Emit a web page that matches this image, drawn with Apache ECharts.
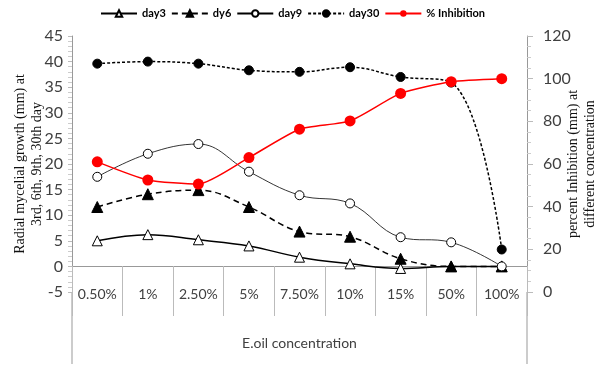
<!DOCTYPE html>
<html>
<head>
<meta charset="utf-8">
<script src="https://cdn.jsdelivr.net/npm/echarts@6/dist/echarts.min.js"></script>
<style>
  html, body { margin: 0; padding: 0; background: #fff; }
  #main { width: 600px; height: 366px; }
</style>
</head>
<body>
<div id="main"></div>
<script>
// 数据
var categories = ['0.50%', '1%', '2.50%', '5%', '7.50%', '10%', '15%', '50%', '100%'];
var day3 = [5, 6.2, 5.2, 4, 1.8, 0.5, -0.4, 0, 0];
var dy6 = [11.6, 14.1, 14.9, 11.6, 6.8, 5.8, 1.5, 0, 0];
var day9 = [17.5, 22, 23.9, 18.5, 13.9, 12.3, 5.7, 4.7, 0];
var day30 = [39.6, 40, 39.6, 38.3, 38, 38.9, 37, 35.9, 3.3];
var inhibition = [61, 52.5, 50.6, 63, 76.3, 80.2, 93.1, 98.6, 100];

var chart = echarts.init(document.getElementById('main'));
var axisGray = '#999';
var labelColor = '#404040';

function lineSeries(name, data, lineType, width, symbol, size, filled) {
    return {
        name: name,
        type: 'line',
        data: data,
        smooth: 0.4,
        symbol: symbol,
        symbolSize: size,
        lineStyle: { color: '#000', width: width, type: lineType },
        itemStyle: {
            color: filled ? '#000' : '#fff',
            borderColor: '#000',
            borderWidth: 1
        }
    };
}

var option = {
    animation: false,
    legend: {
        top: 3,
        left: 95,
        itemWidth: 36,
        itemHeight: 8,
        itemGap: 5,
        textStyle: { fontFamily: 'Lato', fontWeight: 'bold', fontSize: 11, color: '#000' },
        data: ['day3', 'dy6', 'day9', 'day30', '% Inhibition']
    },
    grid: [
        { left: 72, right: 73, top: 36, bottom: 74, containLabel: false, outerBoundsMode: 'none' },
        // 标签用的网格，底边在 y=0 处
        { left: 72, right: 73, top: 36, bottom: 100, containLabel: false, outerBoundsMode: 'none' }
    ],
    xAxis: [
        {
            type: 'category',
            data: categories,
            axisLine: { onZero: true, onZeroAxisIndex: 0, lineStyle: { color: axisGray } },
            axisTick: { show: false },
            axisLabel: { show: false }
        },
        {
            type: 'category',
            gridIndex: 1,
            data: categories,
            axisLine: { show: false },
            axisTick: { show: true, interval: 0, length: 50, lineStyle: { color: '#bbb', width: 1 } },
            axisLabel: { interval: 0, margin: 21, fontFamily: 'Lato', fontSize: 14, color: labelColor },
            name: 'E.oil concentration',
            nameLocation: 'middle',
            nameGap: 70,
            nameMoveOverlap: false,
            nameTextStyle: { fontFamily: 'Lato', fontSize: 14, color: labelColor }
        }
    ],
    yAxis: [
        {
            type: 'value',
            min: -5,
            max: 45,
            interval: 5,
            axisLine: { show: true, lineStyle: { color: axisGray } },
            axisTick: { show: true, length: 4, lineStyle: { color: '#bbb' } },
            minorTick: { show: true, splitNumber: 5, length: 4, lineStyle: { color: '#ccc' } },
            splitLine: { show: false },
            axisLabel: { margin: 9, fontFamily: 'Lato', fontSize: 16, color: labelColor },
            name: 'Radial mycelial growth (mm) at\n3rd, 6th, 9th, 30th day',
            nameLocation: 'middle',
            nameRotate: 90,
            nameGap: 26,
            nameMoveOverlap: false,
            nameTextStyle: { fontFamily: 'Liberation Serif', fontSize: 14, color: '#111', lineHeight: 17 }
        },
        {
            type: 'value',
            min: 0,
            max: 120,
            interval: 20,
            axisLine: { show: true, lineStyle: { color: axisGray } },
            axisTick: { show: true, length: 6, lineStyle: { color: '#bbb' } },
            minorTick: { show: true, splitNumber: 4, length: 4, lineStyle: { color: '#ccc' } },
            splitLine: { show: false },
            axisLabel: { margin: 16, fontFamily: 'Lato', fontSize: 16, color: labelColor },
            name: 'percent Inhibition (mm) at\ndifferent concentration',
            nameLocation: 'middle',
            nameRotate: 90,
            nameGap: 38,
            nameMoveOverlap: false,
            nameTextStyle: { fontFamily: 'Liberation Serif', fontSize: 14, color: '#111', lineHeight: 17 }
        },
        { type: 'value', gridIndex: 1, min: 0, max: 45, show: false }
    ],
    graphic: [
        { type: 'line', shape: { x1: 72, y1: 292, x2: 72, y2: 364 }, style: { stroke: axisGray, lineWidth: 1 } },
        { type: 'line', shape: { x1: 527, y1: 292, x2: 527, y2: 364 }, style: { stroke: axisGray, lineWidth: 1 } }
    ],
    series: [
        lineSeries('day3', day3, 'solid', 1.5, 'triangle', 10, false),
        lineSeries('dy6', dy6, [6, 4], 1.5, 'triangle', 11, true),
        lineSeries('day9', day9, 'solid', 0.8, 'circle', 9, false),
        lineSeries('day30', day30, [3, 2], 1.5, 'circle', 9, true),
        {
            name: '% Inhibition',
            type: 'line',
            yAxisIndex: 1,
            data: inhibition,
            smooth: 0.2,
            symbol: 'circle',
            symbolSize: 11,
            lineStyle: { color: '#ff0000', width: 1.5 },
            itemStyle: { color: '#ff0000' }
        }
    ]
};

chart.setOption(option);
</script>
</body>
</html>
